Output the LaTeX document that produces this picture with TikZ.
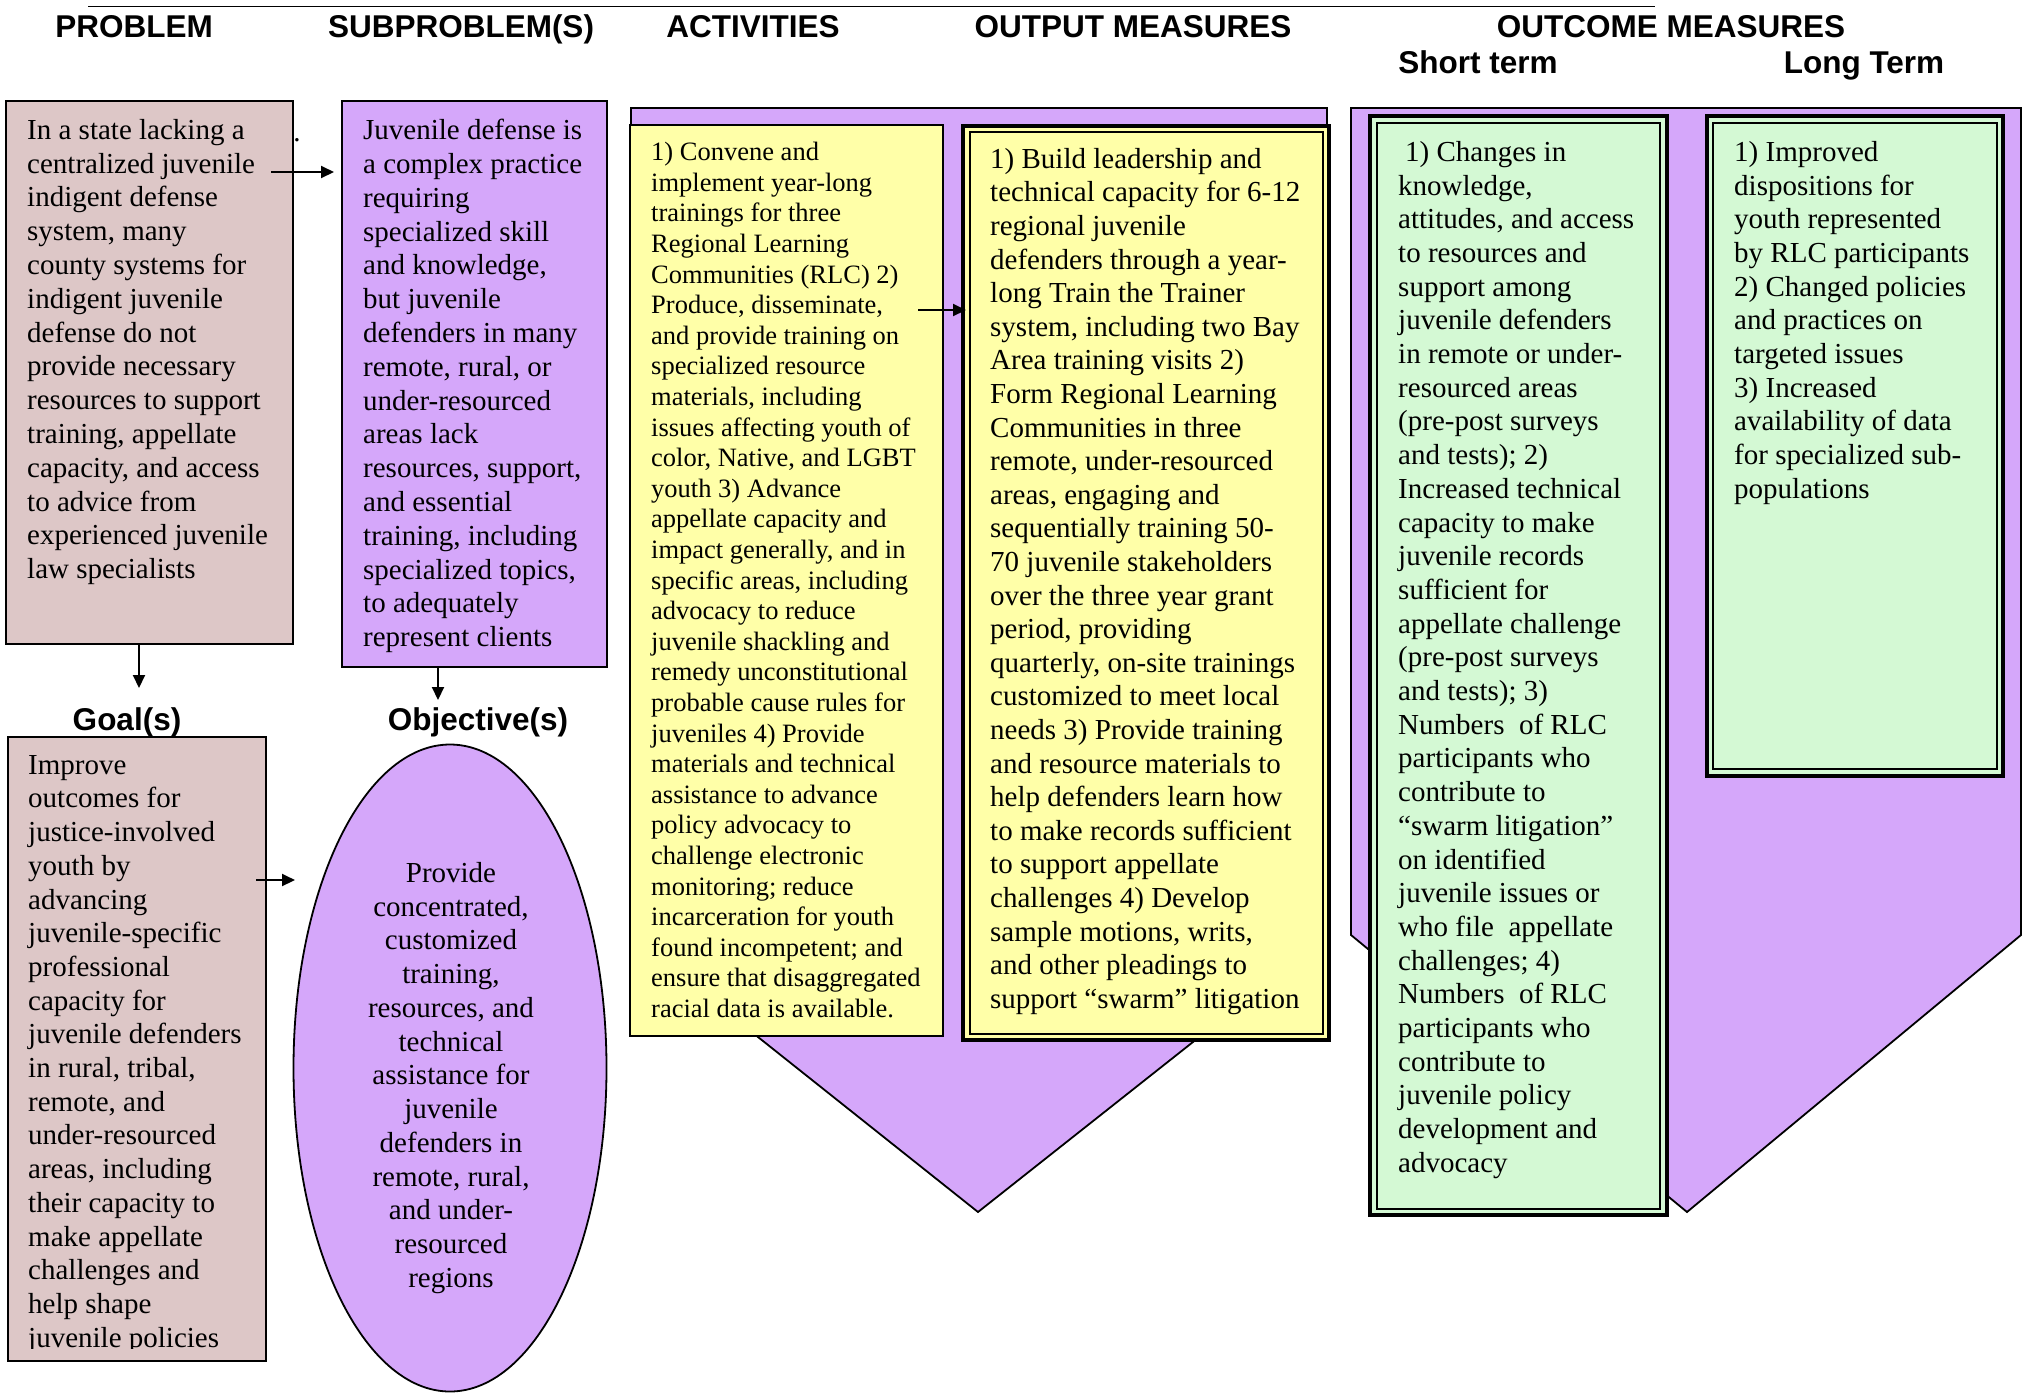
\documentclass[tikz,border=0pt]{standalone}
\usepackage{fontspec}
\setmainfont{Liberation Serif}
\setsansfont{Liberation Sans}
\usetikzlibrary{arrows.meta,shapes.geometric}
\definecolor{pinkc}{RGB}{221,199,199}
\definecolor{lav}{RGB}{213,167,250}
\definecolor{yel}{RGB}{255,255,168}
\definecolor{grn}{RGB}{212,249,212}
\begin{document}
\begin{tikzpicture}[x=1pt,y=-1pt,
 hdr/.style={font=\sffamily\bfseries\fontsize{31.5}{36}\selectfont, inner sep=0pt, anchor=base},
 txt/.style={font=\fontsize{29}{33.8}\selectfont, align=left, inner sep=0pt, anchor=north west},
 ctxt/.style={font=\fontsize{29}{33.75}\selectfont, align=center, inner sep=0pt, anchor=north},
 atxt/.style={font=\fontsize{26.5}{30.6}\selectfont, align=left, inner sep=0pt, anchor=north west},
 boxn/.style={draw, line width=2pt, anchor=north west, inner sep=0pt, outer sep=0pt},
 outerb/.style={draw, line width=3.5pt, anchor=north west, inner sep=0pt, outer sep=0pt},
 innerb/.style={draw, line width=1.5pt, anchor=north west, inner sep=0pt, outer sep=0pt},
 arr/.style={-{Triangle[length=13pt,width=12pt]}, line width=2pt},
 shapeline/.style={draw=black, line width=1.8pt, line join=miter}
]
\useasboundingbox (0,0) rectangle (2023,1393);

% top rule
\coordinate (rl) at (88,6.5);
\coordinate (rr) at (1655,6.5);
\draw[line width=1.5pt] (rl) -- (rr);

% headers
\node[hdr] (hprob) at (134,37) {PROBLEM};
\node[hdr] (hsub) at (461,37) {SUBPROBLEM(S)};
\node[hdr] (hact) at (753,37) {ACTIVITIES};
\node[hdr] (hout) at (1133,37) {OUTPUT MEASURES};
\node[hdr] (hoc) at (1671,37) {OUTCOME MEASURES};
\node[hdr] (hshort) at (1478,73.5) {Short term};
\node[hdr] (hlong) at (1864,73.5) {Long Term};
\node[hdr] (hgoal) at (127,730) {Goal(s)};
\node[hdr] (hobj) at (478,730) {Objective(s)};

% big arrow shapes
\path[shapeline, fill=lav] (631,108) -- (1327,108) -- (1327,936) -- (978,1212) -- (631,936) -- cycle;
\path[shapeline, fill=lav] (1351,108) -- (2021,108) -- (2021,935) -- (1687,1212) -- (1351,935) -- cycle;

% boxes
\node[boxn, fill=pinkc, minimum width=287pt, minimum height=543pt] (prob) at (6,101) {};
\node[boxn, fill=lav, minimum width=265pt, minimum height=566pt] (sub) at (342,101) {};
\node[boxn, fill=pinkc, minimum width=258pt, minimum height=624pt] (goal) at (8,737) {};
\node[draw, line width=1.8pt, fill=lav, ellipse, minimum width=313pt, minimum height=647pt, inner sep=0pt] (obj) at (450,1068) {};
\node[boxn, fill=yel, minimum width=313pt, minimum height=911pt] (act) at (630,125) {};
\node[outerb, fill=yel, minimum width=366pt, minimum height=914pt] (outo) at (963,126) {};
\node[innerb, minimum width=353pt, minimum height=902pt] (outi) at (970,132) {};
\node[outerb, fill=grn, minimum width=297pt, minimum height=1099pt] (shorto) at (1370,116) {};
\node[innerb, minimum width=283pt, minimum height=1086pt] (shorti) at (1377,123) {};
\node[outerb, fill=grn, minimum width=296pt, minimum height=660pt] (longo) at (1707,116) {};
\node[innerb, minimum width=284pt, minimum height=646pt] (longi) at (1713,123) {};

% texts
\node[txt] (tprob) at (27,119) {In a state lacking a\\centralized juvenile\\indigent defense\\system, many\\county systems for\\indigent juvenile\\defense do not\\provide necessary\\resources to support\\training, appellate\\capacity, and access\\to advice from\\experienced juvenile\\law specialists};
\node[font=\fontsize{29}{33}\selectfont, inner sep=0pt, anchor=base] (dot) at (297,141) {.};
\node[txt] (tsub) at (363,119) {Juvenile defense is\\a complex practice\\requiring\\specialized skill\\and knowledge,\\but juvenile\\defenders in many\\remote, rural, or\\under-resourced\\areas lack\\resources, support,\\and essential\\training, including\\specialized topics,\\to adequately\\represent clients};
\begin{scope}
\clip (8,737) rectangle (266,1348);
\node[txt, font=\fontsize{29}{33.7}\selectfont] (tgoal) at (28,755) {Improve\\outcomes for\\justice-involved\\youth by\\advancing\\juvenile-specific\\professional\\capacity for\\juvenile defenders\\in rural, tribal,\\remote, and\\under-resourced\\areas, including\\their capacity to\\make appellate\\challenges and\\help shape\\juvenile policies};
\end{scope}
\node[ctxt] (tobj) at (451,862) {Provide\\concentrated,\\customized\\training,\\resources, and\\technical\\assistance for\\juvenile\\defenders in\\remote, rural,\\and under-\\resourced\\regions};
\node[atxt] (tact) at (651,142) {1) Convene and\\implement year-long\\trainings for three\\Regional Learning\\Communities (RLC) 2)\\Produce, disseminate,\\and provide training on\\specialized resource\\materials, including\\issues affecting youth of\\color, Native, and LGBT\\youth 3) Advance\\appellate capacity and\\impact generally, and in\\specific areas, including\\advocacy to reduce\\juvenile shackling and\\remedy unconstitutional\\probable cause rules for\\juveniles 4) Provide\\materials and technical\\assistance to advance\\policy advocacy to\\challenge electronic\\monitoring; reduce\\incarceration for youth\\found incompetent; and\\ensure that disaggregated\\racial data is available.};
\node[txt, font=\fontsize{29}{33.6}\selectfont] (tout) at (990,148) {1) Build leadership and\\technical capacity for 6-12\\regional juvenile\\defenders through a year-\\long Train the Trainer\\system, including two Bay\\Area training visits 2)\\Form Regional Learning\\Communities in three\\remote, under-resourced\\areas, engaging and\\sequentially training 50-\\70 juvenile stakeholders\\over the three year grant\\period, providing\\quarterly, on-site trainings\\customized to meet local\\needs 3) Provide training\\and resource materials to\\help defenders learn how\\to make records sufficient\\to support appellate\\challenges 4) Develop\\sample motions, writs,\\and other pleadings to\\support “swarm” litigation};
\node[txt, font=\fontsize{29}{33.7}\selectfont] (tshort) at (1398,141) {\hspace{7pt}1) Changes in\\knowledge,\\attitudes, and access\\to resources and\\support among\\juvenile defenders\\in remote or under-\\resourced areas\\(pre-post surveys\\and tests); 2)\\Increased technical\\capacity to make\\juvenile records\\sufficient for\\appellate challenge\\(pre-post surveys\\and tests); 3)\\Numbers\ \ of RLC\\participants who\\contribute to\\“swarm litigation”\\on identified\\juvenile issues or\\who file\ \ appellate\\challenges; 4)\\Numbers\ \ of RLC\\participants who\\contribute to\\juvenile policy\\development and\\advocacy};
\node[txt, font=\fontsize{29}{33.7}\selectfont] (tlong) at (1734,141) {1) Improved\\dispositions for\\youth represented\\by RLC participants\\2) Changed policies\\and practices on\\targeted issues\\3) Increased\\availability of data\\for specialized sub-\\populations};

% arrows
\coordinate (a1s) at (271,172); \coordinate (a1e) at (334,172);
\draw[arr] (a1s) -- (a1e);
\coordinate (a2s) at (139,644); \coordinate (a2e) at (139,688);
\draw[arr] (a2s) -- (a2e);
\coordinate (a3s) at (438,667); \coordinate (a3e) at (438,700);
\draw[arr] (a3s) -- (a3e);
\coordinate (a4s) at (256,880); \coordinate (a4e) at (295,880);
\draw[arr] (a4s) -- (a4e);
\coordinate (a5s) at (918,310); \coordinate (a5e) at (966,310);
\draw[arr] (a5s) -- (a5e);
\end{tikzpicture}
\end{document}
